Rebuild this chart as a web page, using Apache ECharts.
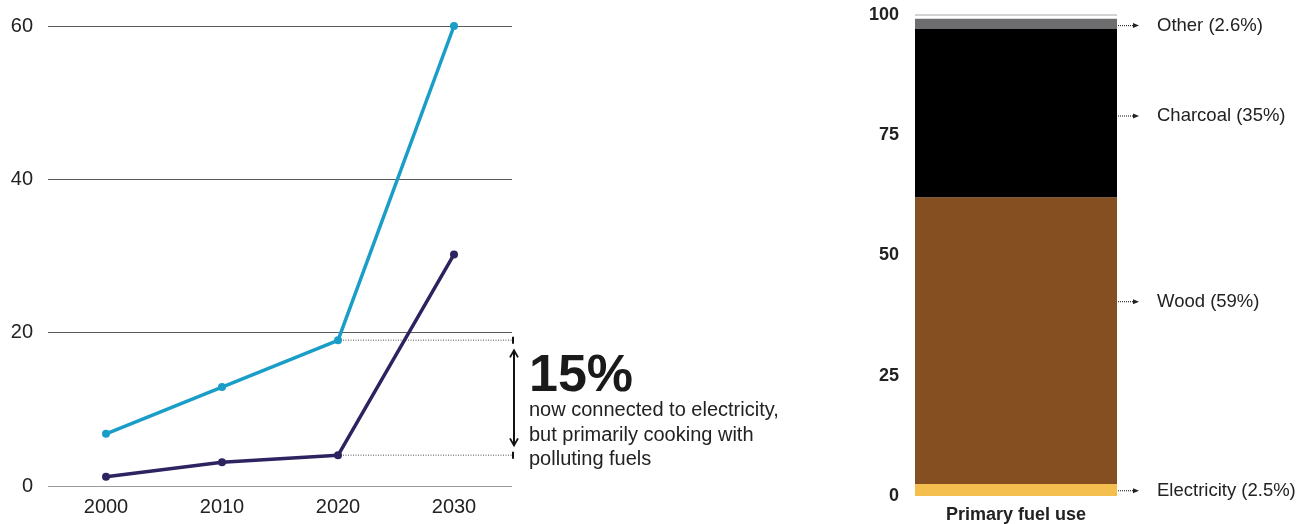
<!DOCTYPE html>
<html><head><meta charset="utf-8">
<script src="https://cdn.jsdelivr.net/npm/echarts@6/dist/echarts.min.js"></script>
<style>html,body{margin:0;padding:0;background:#fff}#c{width:1298px;height:524px}</style>
</head><body><div id="c"></div><script>
// ---- data ----
const years = ['2000', '2010', '2020', '2030'];
const seriesBlue = [6.8, 12.9, 19.0, 60];
const seriesPurple = [1.2, 3.1, 4.0, 30.2];
const leftTicks = { min: 0, max: 60, interval: 20 };
const barCategory = ['Primary fuel use'];
const fuelNames = ['Electricity', 'Wood', 'Charcoal', 'Other'];
const fuelValues = [2.5, 59.6, 35.0, 2.1];
const fuelLabels = ['Electricity (2.5%)', 'Wood (59%)', 'Charcoal (35%)', 'Other (2.6%)'];
const fuelLabelAnchors = [1.1, 40.4, 79.0, 97.8];
const rightTicks = { min: 0, max: 100, interval: 25 };
const annotationBig = '15%';
const annotationText = ['now connected to electricity,', 'but primarily cooking with', 'polluting fuels'];
const fuelColors = ['#f5bf4f', '#854f22', '#000000', '#6d6d6f'];

const FONT = '"Liberation Sans", Arial, Helvetica, sans-serif';
const chart = echarts.init(document.getElementById('c'), null, { renderer: 'canvas' });

const option = {
  animation: false,
  backgroundColor: '#fff',
  textStyle: { fontFamily: FONT },
  grid: [
    { left: 48, top: 26, width: 464, height: 460 },
    { left: 915, top: 15, width: 202, height: 482 }
  ],
  xAxis: [
    { type: 'category', gridIndex: 0, data: years, boundaryGap: true,
      axisLine: { show: false }, axisTick: { show: false },
      axisLabel: { fontSize: 20, color: '#222', margin: 11, fontFamily: FONT } },
    { type: 'category', gridIndex: 1, data: barCategory, boundaryGap: true,
      axisLine: { show: false }, axisTick: { show: false },
      axisLabel: { fontSize: 18, fontWeight: 'bold', color: '#222', margin: 10, fontFamily: FONT } }
  ],
  yAxis: [
    { type: 'value', gridIndex: 0, min: leftTicks.min, max: leftTicks.max, interval: leftTicks.interval,
      axisLine: { show: false }, axisTick: { show: false },
      axisLabel: { fontSize: 20, color: '#222', margin: 15, fontFamily: FONT },
      splitLine: { lineStyle: { color: ['#9a9a9a', '#5a5a5a', '#5a5a5a', '#5a5a5a'], width: 1 } } },
    { type: 'value', gridIndex: 1, min: rightTicks.min, max: rightTicks.max, interval: rightTicks.interval,
      axisLine: { show: false }, axisTick: { show: false }, splitLine: { show: false },
      axisLabel: { fontSize: 18, fontWeight: 'bold', color: '#222', margin: 16, fontFamily: FONT } }
  ],
  series: [
    { name: 'Connected', type: 'line', xAxisIndex: 0, yAxisIndex: 0, data: seriesBlue,
      symbol: 'circle', symbolSize: 8, lineStyle: { color: '#1a9ec8', width: 3.5 },
      itemStyle: { color: '#1a9ec8' }, z: 3 },
    { name: 'Clean cooking', type: 'line', xAxisIndex: 0, yAxisIndex: 0, data: seriesPurple,
      symbol: 'circle', symbolSize: 8, lineStyle: { color: '#2d2360', width: 3.5 },
      itemStyle: { color: '#2d2360' }, z: 4 }
  ].concat(fuelNames.map((n, i) => {
    const s = { name: n, type: 'bar', xAxisIndex: 1, yAxisIndex: 1, stack: 'fuel',
      data: [fuelValues[i]], barWidth: '100%', itemStyle: { color: fuelColors[i] } };
    if (i === fuelNames.length - 1) {
      s.markLine = { silent: true, symbol: ['none', 'none'], label: { show: false },
        lineStyle: { color: '#c4c4c4', width: 1.5, type: 'solid' }, data: [{ yAxis: 100 }] };
    }
    return s;
  }))
};
chart.setOption(option);

// ---- annotations, positioned through the axes' scales ----
const g = [];
const rectL = chart.getModel().getComponent('grid', 0).coordinateSystem.getRect();
const rectR = chart.getModel().getComponent('grid', 1).coordinateSystem.getRect();
const pTop = chart.convertToPixel({ gridIndex: 0 }, [years[2], seriesBlue[2]]);
const pBot = chart.convertToPixel({ gridIndex: 0 }, [years[2], seriesPurple[2]]);
const xEnd = rectL.x + rectL.width + 1;
[pTop, pBot].forEach(p => {
  g.push({ type: 'line', silent: true, shape: { x1: p[0] + 5, y1: p[1], x2: xEnd, y2: p[1] },
    style: { stroke: '#8a8a8a', lineWidth: 1.5, lineDash: [1, 1.5] } });
  g.push({ type: 'line', silent: true, shape: { x1: xEnd, y1: p[1] - 3.5, x2: xEnd, y2: p[1] + 3.5 },
    style: { stroke: '#111', lineWidth: 2 } });
});
const ax = xEnd + 1, ay1 = pTop[1] + 10, ay2 = pBot[1] - 10;
g.push({ type: 'line', silent: true, shape: { x1: ax, y1: ay1, x2: ax, y2: ay2 }, style: { stroke: '#111', lineWidth: 2 } });
g.push({ type: 'polyline', silent: true, shape: { points: [[ax - 4, ay1 + 7], [ax, ay1], [ax + 4, ay1 + 7]] }, style: { stroke: '#111', lineWidth: 1.8, fill: 'none' } });
g.push({ type: 'polyline', silent: true, shape: { points: [[ax - 4, ay2 - 7], [ax, ay2], [ax + 4, ay2 - 7]] }, style: { stroke: '#111', lineWidth: 1.8, fill: 'none' } });
const tx = ax + 15;
const midY = (pTop[1] + pBot[1]) / 2;
g.push({ type: 'text', silent: true, style: { text: annotationBig, x: tx, y: midY - 21, fill: '#1a1a1a',
  fontSize: 52, fontWeight: 'bold', fontFamily: FONT, align: 'left', verticalAlign: 'middle' } });
annotationText.forEach((t, i) => {
  g.push({ type: 'text', silent: true, style: { text: t, x: tx, y: midY + 13 + i * 24.2, fill: '#222',
    fontSize: 20, fontFamily: FONT, align: 'left', verticalAlign: 'middle' } });
});
// right-hand labels
const bx = rectR.x + rectR.width + 1;
fuelLabels.forEach((t, i) => {
  const y = chart.convertToPixel({ gridIndex: 1 }, [barCategory[0], fuelLabelAnchors[i]])[1];
  g.push({ type: 'line', silent: true, shape: { x1: bx, y1: y, x2: bx + 16, y2: y },
    style: { stroke: '#333', lineWidth: 1.2, lineDash: [1, 1] } });
  g.push({ type: 'polygon', silent: true, shape: { points: [[bx + 15, y - 2.5], [bx + 21, y], [bx + 15, y + 2.5]] },
    style: { fill: '#222' } });
  g.push({ type: 'text', silent: true, style: { text: t, x: bx + 39, y: y, fill: '#222',
    fontSize: 18.5, fontFamily: FONT, align: 'left', verticalAlign: 'middle' } });
});
chart.setOption({ graphic: { elements: g } });
</script></body></html>
